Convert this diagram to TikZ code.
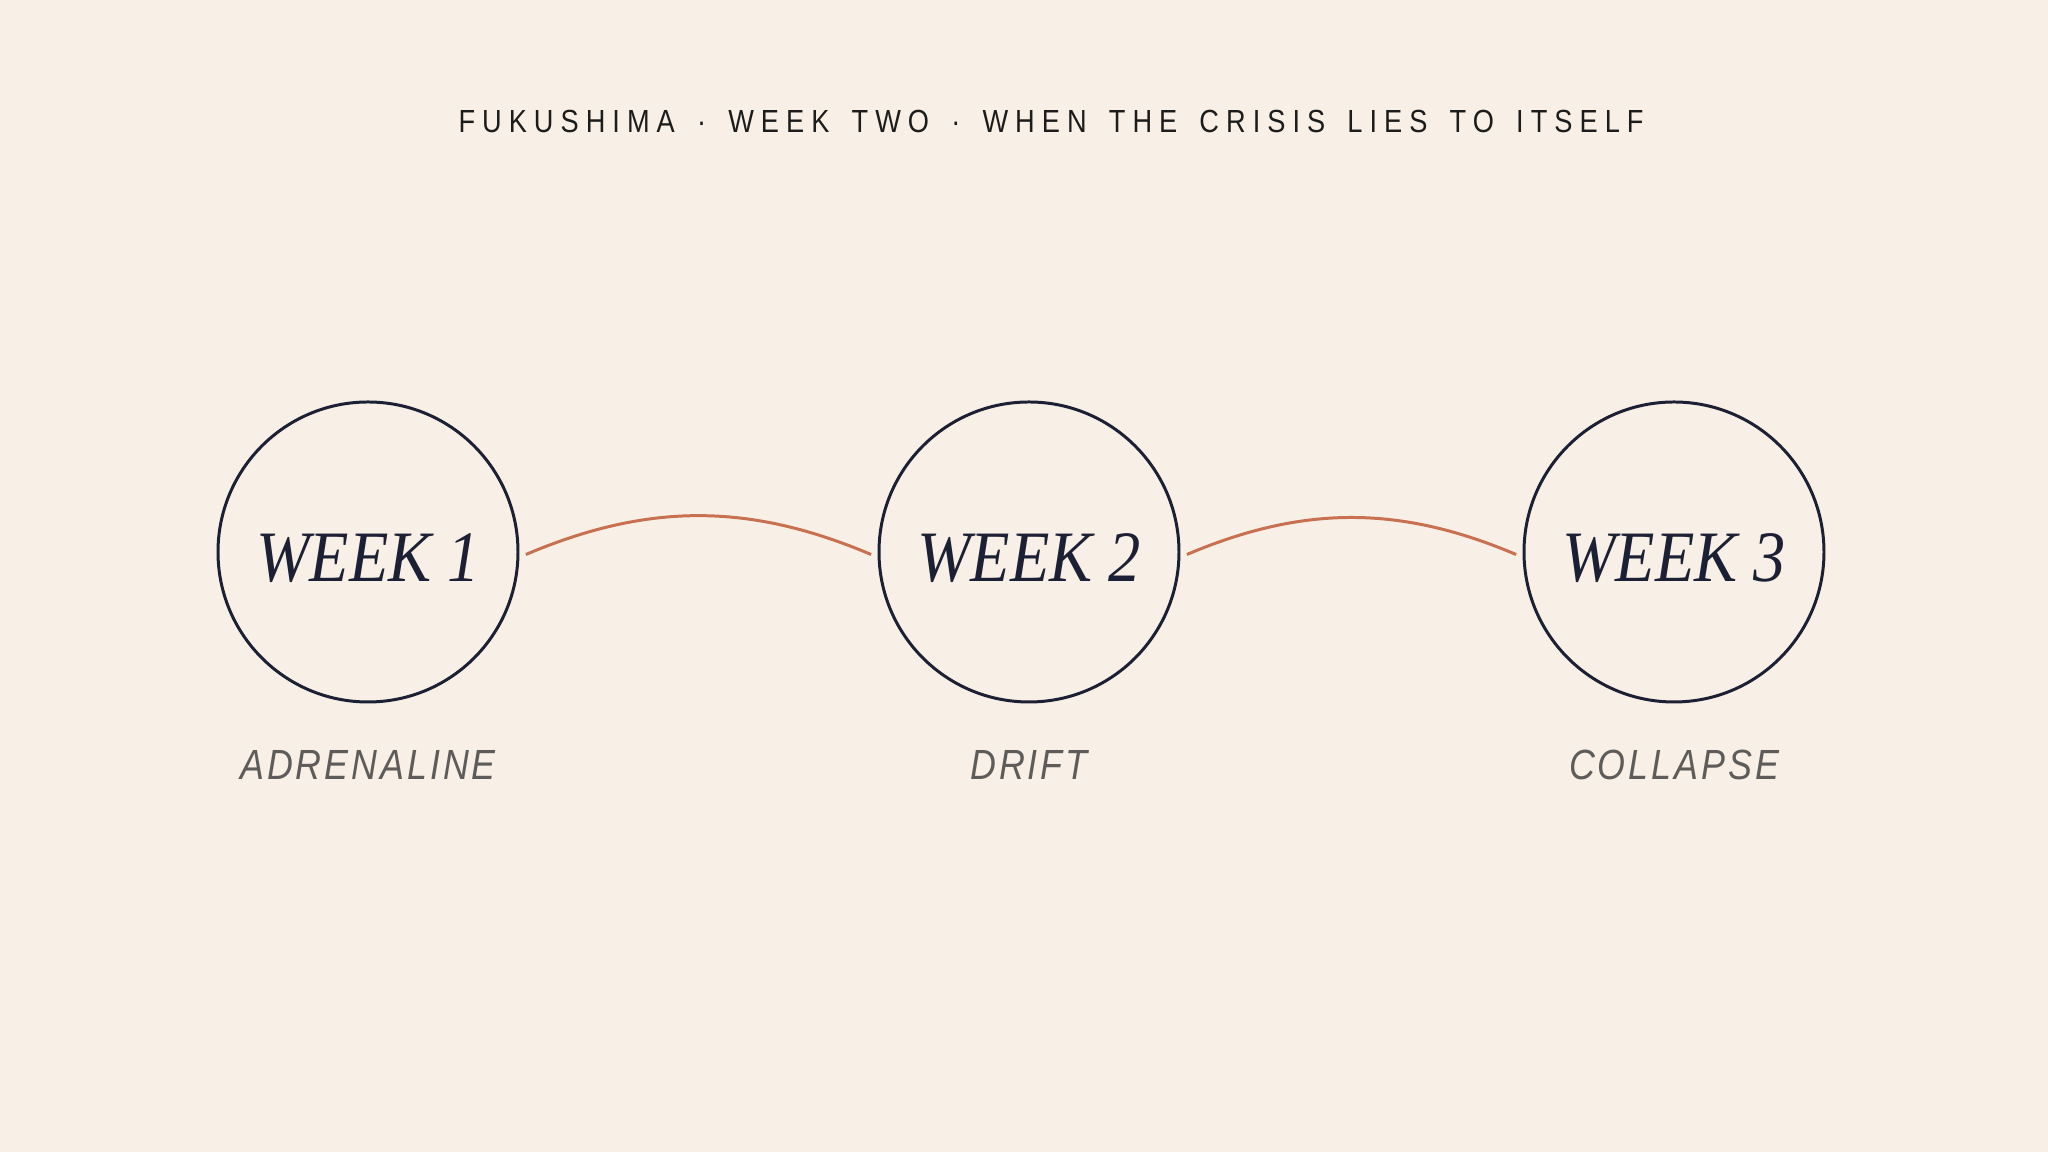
\documentclass[tikz,border=0pt]{standalone}
\usepackage{fontspec}
\usetikzlibrary{positioning}
\newfontfamily\weekfont[FakeStretch=0.89]{Liberation Serif}
\newfontfamily\phasefont[FakeStretch=0.85,LetterSpace=7]{Liberation Sans}
\newfontfamily\titlefont[FakeStretch=0.85,LetterSpace=22,WordSpace=1.52]{Liberation Sans}
\definecolor{bgcream}{HTML}{F8F0E6}
\definecolor{ink}{HTML}{1B2035}
\definecolor{rust}{HTML}{C8704F}
\definecolor{stone}{HTML}{5E5C5A}
\definecolor{headink}{HTML}{1C1C1C}
\begin{document}
\begin{tikzpicture}[
	week/.style={circle, draw=ink, line width=0.85pt, minimum size=3cm, inner sep=0pt,
		text height=0.6cm, text depth=0pt,
		text=ink, font=\weekfont\itshape\fontsize{20.6}{24}\selectfont},
	phase/.style={inner sep=0pt, text=stone, font=\phasefont\itshape\fontsize{12}{14}\selectfont},
	link/.style={draw=rust, line width=0.85pt, shorten <=2pt, shorten >=2pt}
]
	\useasboundingbox (0, 0) rectangle (20.48, 11.52);
	\fill[bgcream] (0, 0) rectangle (20.48, 11.52);

	\node[inner sep=0pt, text=headink, font=\titlefont\fontsize{9.1}{11}\selectfont] (title) at (10.51, 10.30)
		{FUKUSHIMA · WEEK TWO · WHEN THE CRISIS LIES TO ITSELF};

	\node[week] (w1) at (3.68, 6.00) {WEEK 1};
	\node[week] (w2) at (10.29, 6.00) {WEEK 2};
	\node[week] (w3) at (16.74, 6.00) {WEEK 3};

	\node[phase, below=0.46cm of w1] (p1) {ADRENALINE};
	\node[phase, below=0.46cm of w2] (p2) {DRIFT};
	\node[phase, below=0.46cm of w3] (p3) {COLLAPSE};

	\draw[link] (w1.-2) to[bend left=23] (w2.182);
	\draw[link] (w2.-2) to[bend left=23] (w3.182);
\end{tikzpicture}
\end{document}
